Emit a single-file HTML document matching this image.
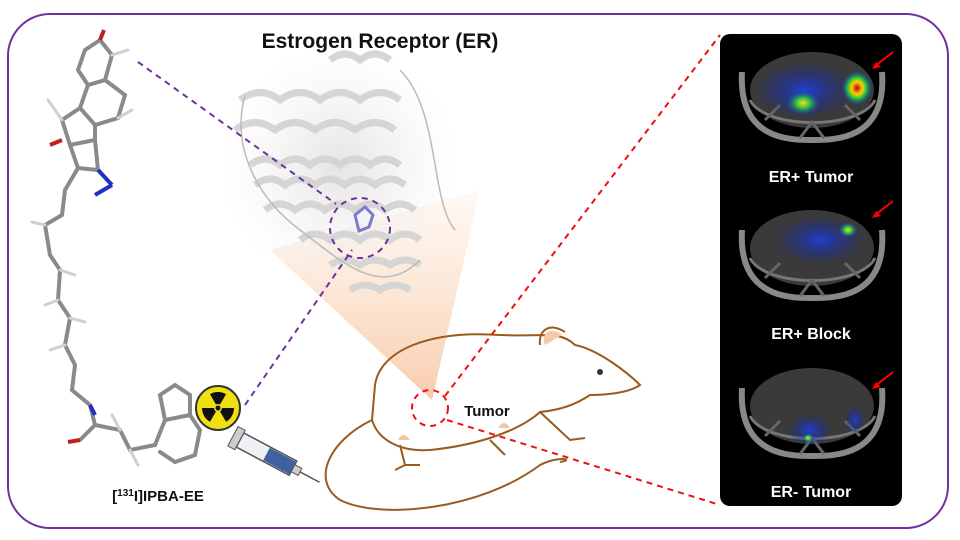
<!DOCTYPE html>
<html><head><meta charset="utf-8"><style>
html,body{margin:0;padding:0;background:#fff;}
svg{display:block;}
text{font-family:"Liberation Sans",sans-serif;font-weight:bold;}
</style></head><body>
<svg width="960" height="540" viewBox="0 0 960 540" xmlns="http://www.w3.org/2000/svg">
<defs>
<radialGradient id="hot" cx="50%" cy="50%" r="50%">
<stop offset="0" stop-color="#c00010"/><stop offset="0.35" stop-color="#ffd000"/><stop offset="0.6" stop-color="#20c040"/><stop offset="1" stop-color="#1030d0" stop-opacity="0"/></radialGradient>
<radialGradient id="warm" cx="50%" cy="50%" r="50%">
<stop offset="0" stop-color="#f0e020"/><stop offset="0.4" stop-color="#30c040"/><stop offset="1" stop-color="#1030d0" stop-opacity="0"/></radialGradient>
<radialGradient id="blue" cx="50%" cy="50%" r="50%">
<stop offset="0" stop-color="#2040e0" stop-opacity="0.9"/><stop offset="1" stop-color="#1020a0" stop-opacity="0"/></radialGradient>
<radialGradient id="prot" cx="50%" cy="50%" r="50%">
<stop offset="0" stop-color="#e4e4e4"/><stop offset="1" stop-color="#f2f2f2" stop-opacity="0"/></radialGradient>
<linearGradient id="cone" x1="0" y1="0" x2="0" y2="1">
<stop offset="0" stop-color="#fbd3b0" stop-opacity="0.15"/><stop offset="1" stop-color="#f6c09a" stop-opacity="0.95"/></linearGradient>
</defs>
<rect x="8" y="14" width="940" height="514" rx="42" fill="#fff" stroke="#7030a0" stroke-width="2"/>

<!-- cone -->
<polygon points="270,250 480,190 432,400" fill="url(#cone)" opacity="0.85"/>

<!-- protein -->
<ellipse cx="340" cy="165" rx="120" ry="120" fill="url(#prot)"/>
<g fill="none" stroke="#d4d4d4" stroke-width="7" opacity="0.95">
<path d="M330,60 q15,-12 30,0 q15,-12 30,0"/>
<path d="M240,100 q20,-15 40,0 q20,-15 40,0 q20,-15 40,0 q20,-15 40,0"/>
<path d="M235,130 q20,-15 40,0 q20,-15 40,0 q20,-15 40,0 q20,-15 40,0"/>
<path d="M250,165 q15,-12 30,0 q15,-12 30,0 q15,-12 30,0 q15,-12 30,0 q15,-12 30,0"/>
<path d="M255,185 q15,-12 30,0 q15,-12 30,0 q15,-12 30,0 q15,-12 30,0 q15,-12 30,0"/>
<path d="M265,210 q15,-12 30,0 q15,-12 30,0 q15,-12 30,0 q15,-12 30,0 q15,-12 30,0"/>
<path d="M300,240 q15,-12 30,0 q15,-12 30,0 q15,-12 30,0 q15,-12 30,0"/>
<path d="M330,265 q15,-10 30,0 q15,-10 30,0 q15,-10 30,0"/>
<path d="M350,290 q15,-10 30,0 q15,-10 30,0"/>
</g>
<g fill="none" stroke="#bbb" stroke-width="1.5">
<path d="M245,95 C230,150 260,200 300,230 S380,300 420,260"/>
<path d="M400,70 C440,110 430,200 455,230"/>
</g>
<path d="M355,215 l10,-8 l8,8 l-4,12 l-10,4 z" fill="none" stroke="#7a7ad0" stroke-width="3"/>

<!-- title -->
<text x="380" y="48" font-size="21" text-anchor="middle" fill="#111">Estrogen Receptor (ER)</text>

<!-- purple dashed -->
<g stroke="#7030a0" stroke-width="2" stroke-dasharray="6,5" fill="none">
<line x1="138" y1="62" x2="336" y2="204"/>
<line x1="245" y1="405" x2="352" y2="250"/>
<circle cx="360" cy="228" r="30"/>
</g>

<!-- molecule -->
<g stroke="#8a8a8a" stroke-width="4" fill="none" stroke-linecap="round">
<path d="M100,40 L112,55 L105,80 L88,85 L78,70 L85,50 Z"/>
<path d="M88,85 L80,108 L95,125 L118,118 L125,95 L105,80"/>
<path d="M80,108 L62,120 L70,145 L95,140 L95,125"/>
<path d="M70,145 L78,168 L98,170 L95,140"/>
<path d="M78,168 L65,190 L62,215 L45,225 L50,255 L60,270 L58,300 L70,318 L65,345 L75,365 L72,390 L90,405 L95,425 L80,440"/>
<path d="M95,425 L120,430 L130,450 L155,445 L165,420 L190,415 L200,430 L195,455 L175,462 L160,452"/>
<path d="M165,420 L160,395 L175,385 L190,395 L190,415"/>
</g>
<g stroke="#d0d0d0" stroke-width="3" stroke-linecap="round">
<line x1="62" y1="120" x2="48" y2="100"/><line x1="118" y1="118" x2="132" y2="110"/>
<line x1="45" y1="225" x2="32" y2="222"/><line x1="60" y1="270" x2="75" y2="275"/>
<line x1="58" y1="300" x2="45" y2="305"/><line x1="70" y1="318" x2="85" y2="322"/>
<line x1="65" y1="345" x2="50" y2="350"/><line x1="130" y1="450" x2="138" y2="465"/>
<line x1="120" y1="430" x2="112" y2="415"/><line x1="112" y1="55" x2="128" y2="50"/>
</g>
<line x1="98" y1="170" x2="112" y2="185" stroke="#2030c0" stroke-width="4"/>
<line x1="112" y1="185" x2="95" y2="195" stroke="#2030c0" stroke-width="4"/>
<line x1="100" y1="40" x2="104" y2="30" stroke="#c02020" stroke-width="4"/>
<line x1="62" y1="140" x2="50" y2="145" stroke="#c02020" stroke-width="4"/>
<line x1="80" y1="440" x2="68" y2="442" stroke="#c02020" stroke-width="4"/>
<line x1="90" y1="405" x2="95" y2="415" stroke="#2030c0" stroke-width="4"/>

<!-- radiation -->
<circle cx="218" cy="408" r="22" fill="#f0e010" stroke="#333" stroke-width="2"/>
<g fill="#111" transform="translate(218,408)">
<path d="M0,0 L-8,-13.8 A16,16 0 0 1 8,-13.8 Z"/>
<path d="M0,0 L16,0 A16,16 0 0 1 8,13.8 Z"/>
<path d="M0,0 L-8,13.8 A16,16 0 0 1 -16,0 Z"/>
<circle r="4" fill="#f0e010"/><circle r="2.5"/>
</g>

<!-- syringe -->
<g transform="translate(240,440) rotate(28)">
<rect x="0" y="-8" width="60" height="16" fill="#eef0f4" stroke="#555" stroke-width="1.5"/>
<rect x="30" y="-7" width="30" height="14" fill="#4060a0"/>
<rect x="-8" y="-11" width="8" height="22" fill="#ccc" stroke="#555"/>
<rect x="60" y="-4" width="8" height="8" fill="#ccc" stroke="#555"/>
<line x1="68" y1="0" x2="90" y2="0" stroke="#555" stroke-width="1.5"/>
</g>
<text x="158" y="501" font-size="15" text-anchor="middle" fill="#111">[<tspan font-size="10" dy="-5">131</tspan><tspan dy="5">I]IPBA-EE</tspan></text>

<!-- mouse -->
<g fill="none" stroke="#9a5a20" stroke-width="2">
<path d="M375,385 C380,350 430,330 500,335 C540,337 560,330 575,345 C600,350 630,375 640,385 C630,392 610,395 590,395 C575,405 560,410 540,412 C520,430 480,445 430,450 C400,452 378,440 372,420 Z"/>
<path d="M540,345 C538,330 550,322 565,332"/>
<path d="M372,420 C330,440 310,480 340,500 C380,520 480,510 540,465 C560,455 575,460 560,462"/>
<path d="M400,445 L405,465 L395,470 M405,465 L420,465"/>
<path d="M490,440 L505,455 M540,412 L570,440 L585,438"/>
</g>
<path d="M545,345 C540,332 552,326 562,335 Z" fill="#f4c8a8"/>
<circle cx="600" cy="372" r="3" fill="#333"/>
<path d="M398,440 q5,-10 12,0 z" fill="#f0c8a0"/>
<path d="M498,428 q6,-10 12,0 z" fill="#f0c8a0"/>

<!-- red dashed -->
<g stroke="#ee1111" stroke-width="2" stroke-dasharray="6,5" fill="none">
<circle cx="430" cy="408" r="18"/>
<line x1="445" y1="396" x2="720" y2="35"/>
<line x1="447" y1="420" x2="720" y2="505"/>
</g>
<text x="487" y="416" font-size="15" text-anchor="middle" fill="#111">Tumor</text>

<!-- panel -->
<rect x="720" y="34" width="182" height="472" rx="10" fill="#000"/>
<g id="scan">
<ellipse cx="812" cy="90" rx="62" ry="38" fill="#3a3a3a"/>
<path d="M742,72 C738,140 790,140 812,140 C835,140 887,140 882,72" fill="none" stroke="#888" stroke-width="6"/>
<path d="M750,100 C765,130 860,130 875,100" fill="none" stroke="#777" stroke-width="3"/>
<path d="M765,120 L780,105 M860,120 L845,105 M800,138 L812,122 L824,138" fill="none" stroke="#666" stroke-width="3"/>
</g>
<ellipse cx="805" cy="90" rx="50" ry="28" fill="url(#blue)"/>
<ellipse cx="803" cy="103" rx="18" ry="13" fill="url(#warm)"/>
<ellipse cx="857" cy="88" rx="16" ry="18" fill="url(#hot)"/>
<line x1="893" y1="52" x2="875" y2="66" stroke="#f00" stroke-width="2"/><path d="M872,69 l9,-2 l-5,-5 z" fill="#f00"/>
<text x="811" y="182" font-size="16" text-anchor="middle" fill="#fff">ER+ Tumor</text>

<use href="#scan" y="158"/>
<ellipse cx="820" cy="240" rx="45" ry="24" fill="url(#blue)"/>
<ellipse cx="848" cy="230" rx="10" ry="8" fill="url(#warm)"/>
<line x1="893" y1="201" x2="875" y2="215" stroke="#f00" stroke-width="2"/><path d="M872,218 l9,-2 l-5,-5 z" fill="#f00"/>
<text x="811" y="339" font-size="16" text-anchor="middle" fill="#fff">ER+ Block</text>

<use href="#scan" y="316"/>
<ellipse cx="810" cy="430" rx="22" ry="16" fill="url(#blue)"/>
<ellipse cx="855" cy="420" rx="10" ry="14" fill="url(#blue)"/>
<ellipse cx="808" cy="438" rx="6" ry="5" fill="url(#warm)"/>
<line x1="893" y1="372" x2="875" y2="386" stroke="#f00" stroke-width="2"/><path d="M872,389 l9,-2 l-5,-5 z" fill="#f00"/>
<text x="811" y="497" font-size="16" text-anchor="middle" fill="#fff">ER- Tumor</text>
</svg>
</body></html>
